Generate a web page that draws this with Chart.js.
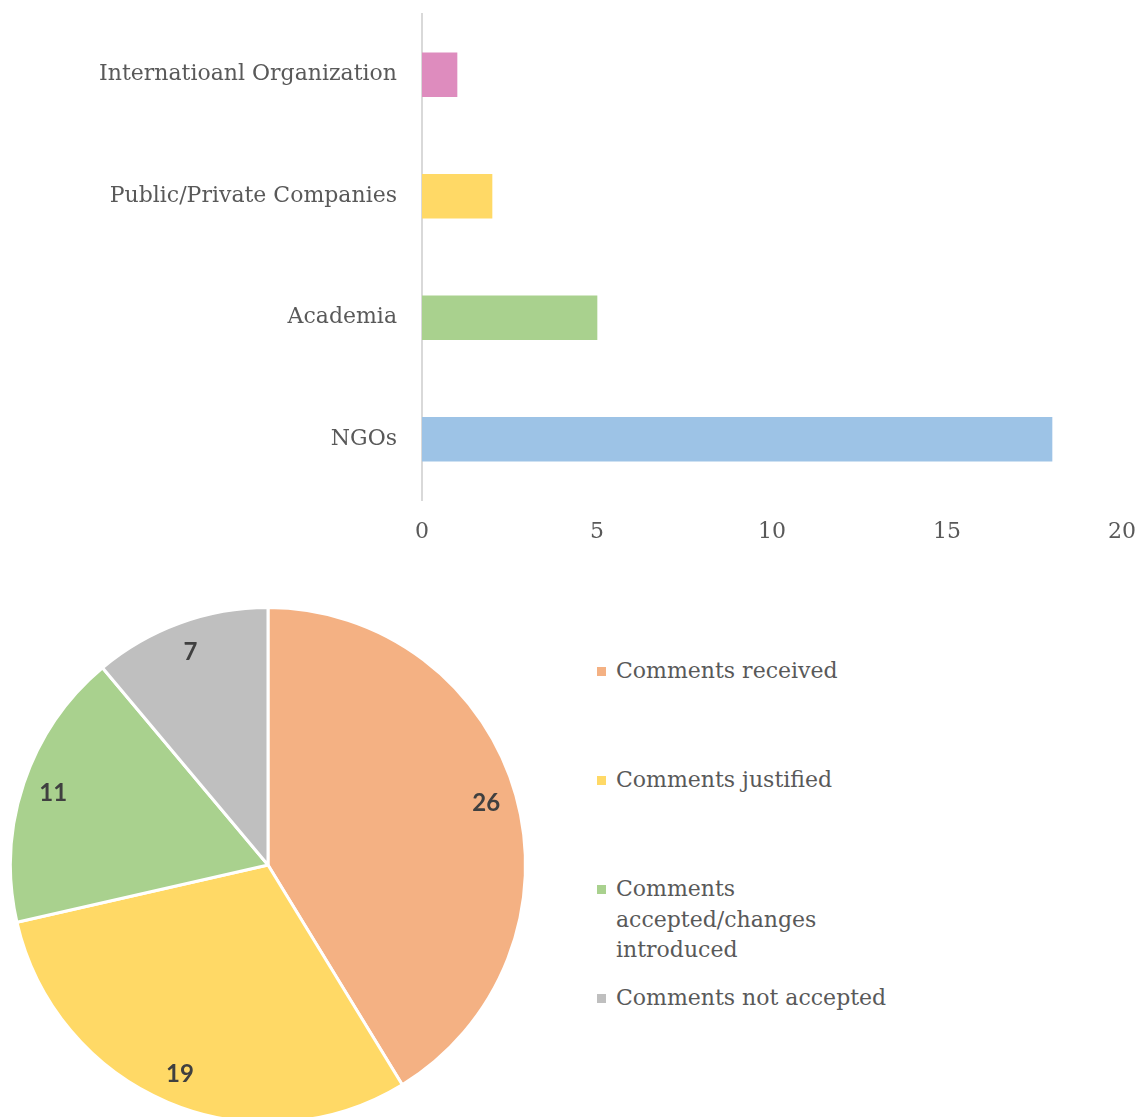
<!DOCTYPE html>
<html>
<head>
<meta charset="utf-8">
<script src="https://cdn.jsdelivr.net/npm/chart.js@4.4.0/dist/chart.umd.min.js"></script>
<style>
  html, body { margin: 0; padding: 0; background: #fff; }
  body { width: 1138px; height: 1117px; position: relative; overflow: hidden; }
  #bar-box { position: absolute; left: 0; top: 0; width: 1138px; height: 560px; }
  #pie-box { position: absolute; left: 0; top: 595px; width: 536px; height: 540px; }
  #pie-legend { position: absolute; left: 597px; top: 656px; font-family: 'DejaVu Serif'; font-size: 22px; color: #595959; }
  .item { height: 109px; display: flex; align-items: flex-start; }
  .item .mark { width: 9px; height: 9px; margin-top: 11px; margin-right: 10px; flex: none; }
  .item .txt { width: 290px; line-height: 30.5px; }
</style>
</head>
<body>
<div id="bar-box"><canvas id="bar-canvas"></canvas></div>
<div id="pie-box"><canvas id="pie-canvas"></canvas></div>
<div id="pie-legend"></div>

<script>
// top chart: who sent comments
const orgTypes = ['Internatioanl Organization', 'Public/Private Companies', 'Academia', 'NGOs'];
const orgCounts = [1, 2, 5, 18];
const orgColors = ['#DE8CBE', '#FFD966', '#A9D18E', '#9DC3E6'];
const xTicks = [0, 5, 10, 15, 20];

// bottom chart: what happened with the comments
const commentTypes = ['Comments received', 'Comments justified', 'Comments accepted/changes introduced', 'Comments not accepted'];
const commentCounts = [26, 19, 11, 7];
const commentColors = ['#F4B183', '#FFD966', '#A9D18E', '#BFBFBF'];

const serif = 'DejaVu Serif';
const textGrey = '#595959';

new Chart(document.getElementById('bar-canvas'), {
  type: 'bar',
  data: {
    labels: orgTypes,
    datasets: [{
      data: orgCounts,
      backgroundColor: orgColors,
      barThickness: 44
    }]
  },
  options: {
    indexAxis: 'y',
    responsive: true,
    maintainAspectRatio: false,
    animation: false,
    layout: { padding: { top: 14, right: 16 } },
    plugins: { legend: { display: false }, tooltip: { enabled: false } },
    scales: {
      x: {
        min: xTicks[0],
        max: xTicks[xTicks.length - 1],
        afterBuildTicks: scale => { scale.ticks = xTicks.map(v => ({ value: v })); },
        afterFit: scale => {
          scale.height = 60;
          scale.paddingLeft = 0;
          scale.paddingRight = 0;
        },
        grid: { display: false, drawTicks: false },
        border: { display: false },
        ticks: { color: textGrey, padding: 19, font: { family: serif, size: 22 } }
      },
      y: {
        afterFit: scale => {
          scale.width = 422;
          scale.paddingTop = 0;
          scale.paddingBottom = 0;
        },
        grid: { display: false, drawTicks: false },
        border: { display: true, color: '#D9D9D9', width: 2 },
        ticks: { color: textGrey, padding: 25, font: { family: serif, size: 22 } }
      }
    }
  }
});

const pieLabels = {
  id: 'pieLabels',
  afterDatasetsDraw(chart) {
    const ctx = chart.ctx;
    const meta = chart.getDatasetMeta(0);
    ctx.save();
    ctx.font = 'bold 24px Lato';
    ctx.fillStyle = '#404040';
    ctx.textAlign = 'center';
    ctx.textBaseline = 'middle';
    meta.data.forEach((arc, i) => {
      const p = arc.getProps(['x', 'y', 'startAngle', 'endAngle', 'outerRadius'], true);
      const mid = (p.startAngle + p.endAngle) / 2;
      const r = p.outerRadius * 0.88;
      ctx.fillText(commentCounts[i], p.x + Math.cos(mid) * r, p.y + Math.sin(mid) * r);
    });
    ctx.restore();
  }
};

new Chart(document.getElementById('pie-canvas'), {
  type: 'pie',
  data: {
    labels: commentTypes,
    datasets: [{
      data: commentCounts,
      backgroundColor: commentColors,
      borderColor: '#FFFFFF',
      borderWidth: 3
    }]
  },
  options: {
    responsive: true,
    maintainAspectRatio: false,
    animation: false,
    layout: { padding: { left: 9, right: 9, top: 11, bottom: 11 } },
    plugins: { legend: { display: false }, tooltip: { enabled: false } }
  },
  plugins: [pieLabels]
});

// legend for the pie, built from the same arrays
const legend = document.getElementById('pie-legend');
commentTypes.forEach((name, i) => {
  const item = document.createElement('div');
  item.className = 'item';
  const mark = document.createElement('div');
  mark.className = 'mark';
  mark.style.background = commentColors[i];
  const txt = document.createElement('div');
  txt.className = 'txt';
  txt.textContent = name;
  item.appendChild(mark);
  item.appendChild(txt);
  legend.appendChild(item);
});
</script>
</body>
</html>
